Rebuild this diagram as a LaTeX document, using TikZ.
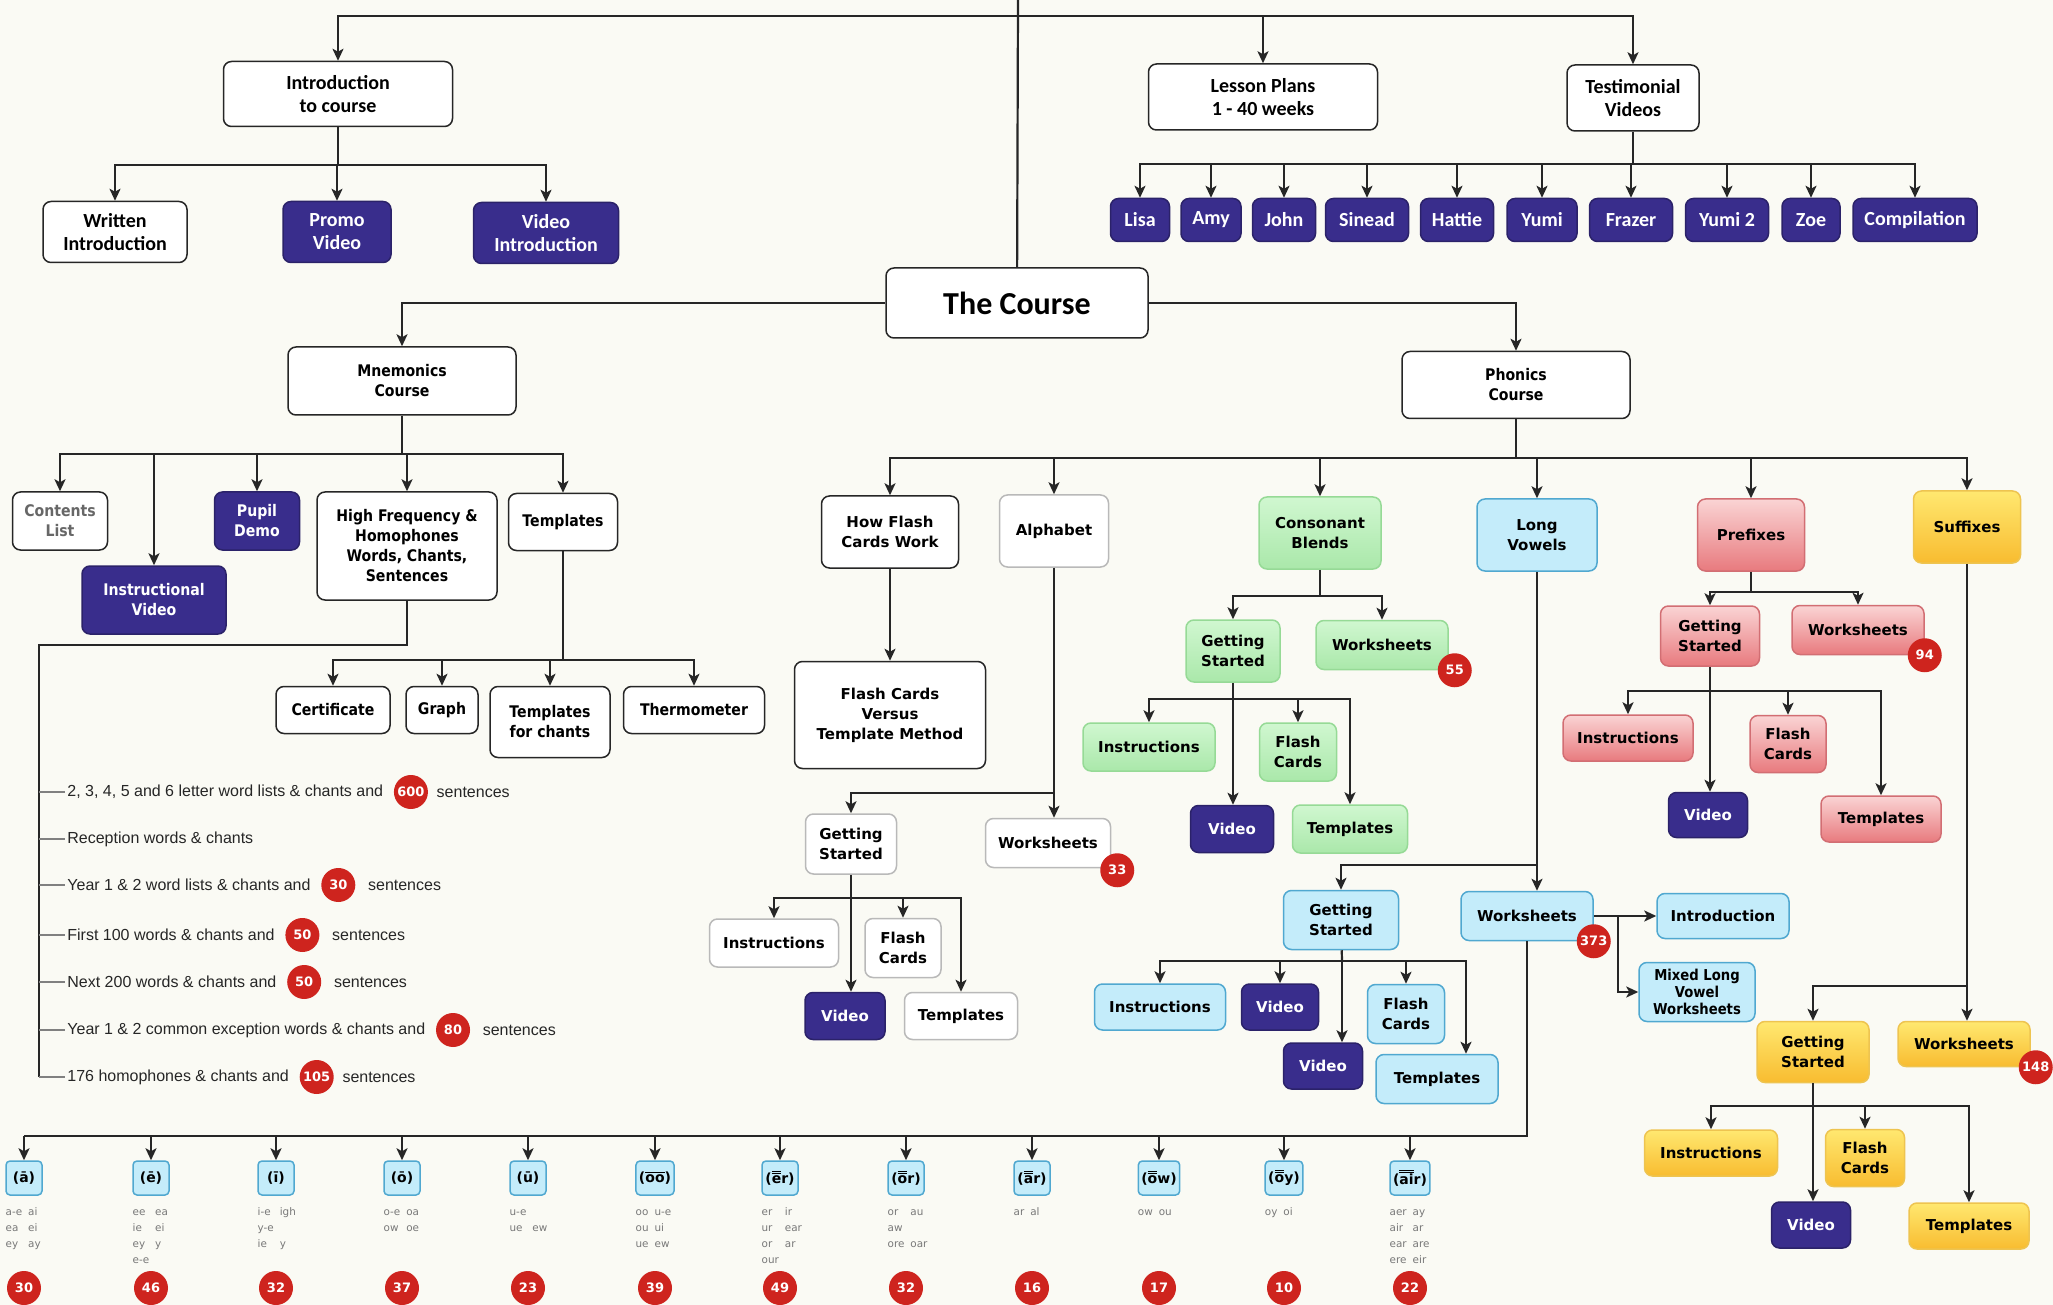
\documentclass[tikz,border=0pt]{standalone}
\usepackage{fontspec}
\setmainfont{DejaVu Sans}
\newfontfamily\topfont{Carlito}
\newfontfamily\mnfont{DejaVu Sans}[FakeStretch=0.88]
\newfontfamily\listfont{Liberation Sans}
\usetikzlibrary{arrows.meta,positioning}
\definecolor{paper}{RGB}{250,250,244}
\definecolor{ink}{RGB}{38,38,38}
\definecolor{indigo}{RGB}{57,45,140}
\definecolor{badgered}{RGB}{206,36,30}
\definecolor{cbtop}{RGB}{208,247,208}
\definecolor{cbbot}{RGB}{170,232,170}
\definecolor{cbline}{RGB}{150,218,150}
\definecolor{lvfill}{RGB}{196,236,250}
\definecolor{lvline}{RGB}{80,168,208}
\definecolor{pftop}{RGB}{250,212,212}
\definecolor{pfbot}{RGB}{232,122,126}
\definecolor{pfline}{RGB}{210,110,115}
\definecolor{sftop}{RGB}{255,232,112}
\definecolor{sfbot}{RGB}{248,188,48}
\definecolor{sfline}{RGB}{238,196,80}
\definecolor{spellgrey}{RGB}{120,120,120}
% bars over the long sounds
\newcommand\lng[1]{\leavevmode\vbox{\offinterlineskip\halign{##\cr\hrulefill\cr\noalign{\kern1pt}#1\cr}}}
\newcommand\dlng[1]{\leavevmode\vbox{\offinterlineskip\halign{##\cr\hrulefill\cr\noalign{\kern0.6pt}\hrulefill\cr\noalign{\kern0.8pt}#1\cr}}}
\tikzstyle{bx}=[draw=ink,line width=0.75pt,rounded corners=4pt,fill=white,align=center,inner sep=2pt,font=\bfseries\fontsize{7.5}{10}\selectfont]
\tikzstyle{topbx}=[bx,font=\topfont\bfseries\fontsize{10}{11.5}\selectfont]
\tikzstyle{mn}=[bx,font=\mnfont\bfseries\fontsize{8}{10}\selectfont]
\tikzstyle{pale}=[draw=gray!55]
\tikzstyle{vid}=[fill=indigo,draw=indigo!75!black,text=white]
\tikzstyle{cbbx}=[bx,draw=cbline,top color=cbtop,bottom color=cbbot]
\tikzstyle{lvbx}=[bx,draw=lvline,fill=lvfill]
\tikzstyle{pfbx}=[bx,draw=pfline,top color=pftop,bottom color=pfbot]
\tikzstyle{sfbx}=[bx,draw=sfline,top color=sftop,bottom color=sfbot]
\tikzstyle{count}=[circle,fill=badgered,text=white,inner sep=0pt,minimum size=17pt,font=\bfseries\fontsize{6.5}{7}\selectfont]
\tikzstyle{wire}=[draw=ink,line width=1.1pt]
\tikzstyle{arr}=[wire,-{Stealth[length=6pt,width=5.5pt,inset=1.5pt]}]
\tikzstyle{tick}=[draw=gray,line width=0.8pt]
\tikzstyle{item}=[anchor=west,inner sep=1pt,text=ink,font=\listfont\fontsize{8}{9}\selectfont]
\tikzstyle{sound}=[bx,draw=lvline,fill=lvfill,rounded corners=2pt,minimum width=18pt,minimum height=17pt,inner sep=1.5pt,font=\bfseries\fontsize{7}{8}\selectfont]
\tikzstyle{spell}=[anchor=north west,inner sep=0pt,text=spellgrey,font=\fontsize{5.2}{8}\selectfont]
\tikzset{wh/.style 2 args={minimum width=#1*0.5pt,minimum height=#2*0.5pt}}

\begin{document}
\begin{tikzpicture}[x=0.5pt,y=-0.5pt]
\fill[paper] (0,0) rectangle (2053,1305);
\useasboundingbox (0,0) rectangle (2053,1305);

% top of the course
\node[topbx,wh={262}{70},font=\topfont\bfseries\fontsize{16}{18}\selectfont] (course) at (1017,303) {The Course};
\node[topbx,wh={229}{65}] (intro) at (338,94) {Introduction\\to course};
\node[topbx,wh={144}{61}] (written) at (115,232) {Written\\Introduction};
\node[topbx,vid,wh={108}{61}] (promo) at (337,232) {Promo\\Video};
\node[topbx,vid,wh={145}{61}] (vidintro) at (546,233) {Video\\Introduction};
\node[topbx,wh={229}{66}] (lesson) at (1263,97) {Lesson Plans\\1 - 40 weeks};
\node[topbx,wh={132}{66}] (testi) at (1633,98) {Testimonial\\Videos};
\foreach \n/\x/\w [count=\i] in {Lisa/1140/59,Amy/1211/60,John/1284/63,Sinead/1367/83,Hattie/1457/73,Yumi/1542/70,Frazer/1631/83,Yumi 2/1727/83,Zoe/1811/58,Compilation/1915/124}
  \node[topbx,vid,wh={\w}{43}] (t\i) at (\x,220) {\n};

\coordinate (top) at (1018,0);
\coordinate (topbus) at (1018,16);
\coordinate (introbus) at (338,165);
\coordinate (testibus) at (1633,164);
\draw[wire] (course) -- (top);
\foreach \c in {intro,lesson,testi} \draw[arr] (topbus) -| (\c);
\draw[wire] (intro) -- (introbus);
\foreach \c in {written,promo,vidintro} \draw[arr] (introbus) -| (\c);
\draw[wire] (testi) -- (testibus);
\foreach \i in {1,...,10} \draw[arr] (testibus) -| (t\i);

% mnemonics
\node[mn,wh={228}{68}] (mnem) at (402,381) {Mnemonics\\Course};
\node[mn,wh={95}{58},text=ink!70] (contents) at (60,521) {Contents\\List};
\node[mn,vid,wh={144}{68}] (instvid) at (154,600) {Instructional\\Video};
\node[mn,vid,wh={85}{58}] (pupil) at (257,521) {Pupil\\Demo};
\node[mn,wh={180}{108}] (hf) at (407,546) {High Frequency \&\\Homophones\\Words, Chants,\\Sentences};
\node[mn,wh={109}{57}] (tmpl) at (563,522) {Templates};
\node[mn,wh={114}{47}] (cert) at (333,710) {Certificate};
\node[mn,wh={72}{47}] (graph) at (442,710) {Graph};
\node[mn,wh={120}{71}] (tchants) at (550,722) {Templates\\for chants};
\node[mn,wh={141}{47}] (thermo) at (694,710) {Thermometer};
\draw[arr] (course) -| (mnem);
\coordinate (mnbus) at (402,454);
\draw[wire] (mnem) -- (mnbus);
\foreach \c in {contents,instvid,pupil,hf,tmpl} \draw[arr] (mnbus) -| (\c);
\coordinate (tmplbus) at (563,660);
\draw[wire] (tmpl) -- (tmplbus);
\foreach \c in {cert,graph,tchants,thermo} \draw[arr] (tmplbus) -| (\c);

% word lists
\node[item] (l1) at (65,792) {2, 3, 4, 5 and 6 letter word lists \& chants and};
\node[count,right=4pt of l1] (n1) {600};
\node[item,right=3pt of n1] {sentences};
\node[item] (l2) at (65,839) {Reception words \& chants};
\node[item] (l3) at (65,885) {Year 1 \& 2 word lists \& chants and};
\node[count,right=4pt of l3] (n3) {30};
\node[item,right=5pt of n3] {sentences};
\node[item] (l4) at (65,935) {First 100 words \& chants and};
\node[count,right=4pt of l4] (n4) {50};
\node[item,right=5pt of n4] {sentences};
\node[item] (l5) at (65,982) {Next 200 words \& chants and};
\node[count,right=4pt of l5] (n5) {50};
\node[item,right=5pt of n5] {sentences};
\node[item] (l6) at (65,1030) {Year 1 \& 2 common exception words \& chants and};
\node[count,right=4pt of l6] (n6) {80};
\node[item,right=5pt of n6] {sentences};
\node[item] (l7) at (65,1077) {176 homophones \& chants and};
\node[count,right=4pt of l7] (n7) {105};
\node[item,right=3pt of n7] {sentences};
\coordinate (hfbend) at (39,645);
\draw[wire] (hf) |- (hfbend) -- (hfbend |- l7.west);
\foreach \i in {1,...,7} \draw[tick] (hfbend |- l\i.west) -- (l\i.west);

% phonics
\node[mn,wh={228}{67}] (phon) at (1516,385) {Phonics\\Course};
\node[bx,wh={137}{72}] (hfc) at (890,532) {How Flash\\Cards Work};
\node[bx,pale,wh={109}{72}] (alpha) at (1054,531) {Alphabet};
\node[cbbx,wh={122}{72}] (cb) at (1320,533) {Consonant\\Blends};
\node[lvbx,wh={120}{72}] (lv) at (1537,535) {Long\\Vowels};
\node[pfbx,wh={107}{72}] (pf) at (1751,535) {Prefixes};
\node[sfbx,wh={107}{72}] (sf) at (1967,527) {Suffixes};
\draw[arr] (course) -| (phon);
\coordinate (phbus) at (1516,458);
\draw[wire] (phon) -- (phbus);
\foreach \c in {hfc,alpha,cb,lv,pf,sf} \draw[arr] (phbus) -| (\c);

% flash cards and alphabet
\node[bx,wh={191}{107}] (fcvt) at (890,715) {Flash Cards\\Versus\\Template Method};
\draw[arr] (hfc) -- (fcvt);
\node[bx,pale,wh={91}{60}] (agst) at (851,844) {Getting\\Started};
\node[bx,pale,wh={125}{49}] (aws) at (1048,843) {Worksheets};
\node[count] (b33) at ([xshift=3pt,yshift=-1pt]aws.south east) {33};
\node[bx,pale,wh={129}{48}] (ainst) at (774,943) {Instructions};
\node[bx,pale,wh={76}{59}] (afc) at (903,948) {Flash\\Cards};
\node[bx,vid,wh={80}{47}] (avid) at (845,1016) {Video};
\node[bx,pale,wh={113}{47}] (atmp) at (961,1016) {Templates};
\coordinate (alphabus) at (1054,793);
\draw[wire] (alpha) -- (alphabus);
\draw[arr] (alphabus) -| (agst);
\draw[arr] (alphabus) -- (alphabus |- aws.north);
\coordinate (agbus) at (851,898);
\draw[wire] (agst) -- (agbus);
\foreach \c in {ainst,afc,atmp} \draw[arr] (agbus) -| (\c);
\draw[arr] (agbus) -- (agbus |- avid.north);

% consonant blends
\node[cbbx,wh={94}{62}] (cgst) at (1233,651) {Getting\\Started};
\node[cbbx,wh={132}{49}] (cws) at (1382,645) {Worksheets};
\node[count] (b55) at ([xshift=3pt]cws.south east) {55};
\node[cbbx,wh={132}{48}] (cinst) at (1149,747) {Instructions};
\node[cbbx,wh={77}{58}] (cfc) at (1298,752) {Flash\\Cards};
\node[bx,vid,wh={83}{47}] (cvid) at (1232,829) {Video};
\node[cbbx,wh={115}{48}] (ctmp) at (1350,829) {Templates};
\coordinate (cbbus) at (1320,596);
\draw[wire] (cb) -- (cbbus);
\foreach \c in {cgst,cws} \draw[arr] (cbbus) -| (\c);
\coordinate (cgbus) at (1233,699);
\draw[wire] (cgst) -- (cgbus);
\foreach \c in {cinst,cfc,ctmp} \draw[arr] (cgbus) -| (\c);
\draw[arr] (cgbus) -- (cgbus |- cvid.north);

% long vowels
\node[lvbx,wh={115}{59}] (lgst) at (1341,920) {Getting\\Started};
\node[lvbx,wh={132}{49}] (lws) at (1527,916) {Worksheets};
\node[count] (b373) at (lws.south east) {373};
\node[lvbx,wh={132}{45}] (lintro) at (1723,916) {Introduction};
\node[lvbx,wh={116}{59},font=\mnfont\bfseries\fontsize{7.5}{8.5}\selectfont] (lmix) at (1697,992) {Mixed Long\\Vowel\\Worksheets};
\node[lvbx,wh={131}{46}] (linst) at (1160,1007) {Instructions};
\node[bx,vid,wh={77}{46}] (lvid1) at (1280,1007) {Video};
\node[lvbx,wh={77}{59}] (lfc) at (1406,1014) {Flash\\Cards};
\node[bx,vid,wh={79}{46}] (lvid2) at (1323,1066) {Video};
\node[lvbx,wh={122}{49}] (ltmp) at (1437,1079) {Templates};
\coordinate (lvbend) at (1537,865);
\draw[wire] (lv) -- (lvbend);
\draw[arr] (lvbend) -| (lgst);
\draw[arr] (lvbend) -- (lvbend |- lws.north);
\draw[arr] (lws) -- (lintro);
\coordinate (lwsfork) at (1618,916);
\draw[arr] (lwsfork) |- (lmix);
\coordinate (lgbus) at (1342,961);
\draw[wire] (lgst) -- (lgbus);
\foreach \c in {linst,lvid1,lfc} \draw[arr] (lgbus) -| (\c);
\draw[arr] (lgbus) -- (lgbus |- lvid2.north);
\draw[arr] (lgbus) -| ([xshift=14.5pt]ltmp.north);

% prefixes
\node[pfbx,wh={99}{60}] (pgst) at (1710,636) {Getting\\Started};
\node[pfbx,wh={132}{49}] (pws) at (1858,630) {Worksheets};
\node[count] (b94) at (pws.south east) {94};
\node[pfbx,wh={130}{46}] (pinst) at (1628,738) {Instructions};
\node[pfbx,wh={76}{57}] (pfc) at (1788,744) {Flash\\Cards};
\node[bx,vid,wh={79}{45}] (pvid) at (1708,815) {Video};
\node[pfbx,wh={120}{46}] (ptmp) at (1881,819) {Templates};
\coordinate (pfbus) at (1751,592);
\draw[wire] (pf) -- (pfbus);
\foreach \c in {pgst,pws} \draw[arr] (pfbus) -| (\c);
\coordinate (pgbus) at (1710,691);
\draw[wire] (pgst) -- (pgbus);
\foreach \c in {pinst,pfc,ptmp} \draw[arr] (pgbus) -| (\c);
\draw[arr] (pgbus) -- (pgbus |- pvid.north);

% suffixes
\node[sfbx,wh={112}{61}] (sgst) at (1813,1052) {Getting\\Started};
\node[sfbx,wh={132}{45}] (sws) at (1964,1044) {Worksheets};
\node[count] (b148) at ([xshift=2.5pt]sws.south east) {148};
\node[sfbx,wh={133}{46}] (sinst) at (1711,1153) {Instructions};
\node[sfbx,wh={79}{57}] (sfc) at (1865,1158) {Flash\\Cards};
\node[bx,vid,wh={79}{46}] (svid) at (1811,1225) {Video};
\node[sfbx,wh={120}{46}] (stmp) at (1969,1226) {Templates};
\coordinate (sfbend) at (1967,986);
\draw[wire] (sf) -- (sfbend);
\draw[arr] (sfbend) -| (sgst);
\draw[arr] (sfbend) -- (sfbend |- sws.north);
\coordinate (sgbus) at (1813,1106);
\draw[wire] (sgst) -- (sgbus);
\foreach \c in {sinst,sfc,stmp} \draw[arr] (sgbus) -| (\c);
\draw[arr] (sgbus) -- (sgbus |- svid.north);

% long vowel sounds
\foreach \s/\x/\sp/\n [count=\i] in {
  {(\={a})}/24/{a-e&ai\\ea&ei\\ey&ay}/30,
  {(\={e})}/151/{ee&ea\\ie&ei\\ey&y\\e-e}/46,
  {(\={\i})}/276/{i-e&igh\\y-e\\ie&y}/32,
  {(\={o})}/402/{o-e&oa\\ow&oe}/37,
  {(\={u})}/528/{u-e\\ue&ew}/23,
  {(\lng{oo})}/655/{oo&u-e\\ou&ui\\ue&ew}/39,
  {(\dlng{e}r)}/780/{er&ir\\ur&ear\\or&ar\\our}/49,
  {(\dlng{o}r)}/906/{or&au\\aw\\ore&oar}/32,
  {(\dlng{a}r)}/1032/{ar&al}/16,
  {(\dlng{o}w)}/1159/{ow&ou}/17,
  {(\dlng{o}y)}/1284/{oy&oi}/10,
  {(\dlng{ai}r)}/1410/{aer&ay\\air&ar\\ear&are\\ere&eir}/22}
{
  \node[sound] (ph\i) at (\x,1178) {\s};
  \node[spell] (sp\i) at ([yshift=-4pt]ph\i.south west) {\begin{tabular}{@{}l@{\hspace{3pt}}l@{}}\sp\end{tabular}};
  \node[count] (pn\i) at (\x,1288) {\n};
}
\coordinate (sndbus) at (1527,1136);
\draw[wire] (lws) -- (sndbus) -- (sndbus -| ph1);
\foreach \i in {1,...,12} \draw[arr] (sndbus -| ph\i) -- (ph\i);
\end{tikzpicture}
\end{document}
